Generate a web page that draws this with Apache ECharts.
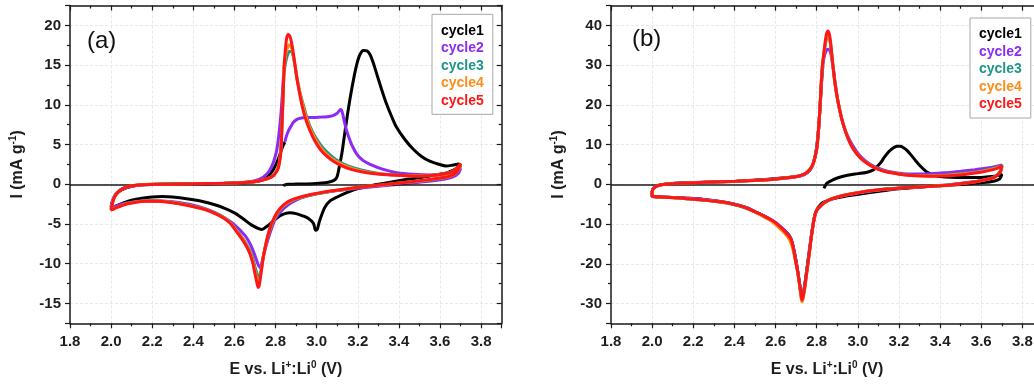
<!DOCTYPE html>
<html>
<head>
<meta charset="utf-8">
<script src="https://cdn.jsdelivr.net/npm/echarts@6/dist/echarts.min.js"></script>
<style>
  html, body { margin: 0; padding: 0; background: #fff; }
  #chart { width: 1034px; height: 385px; }
</style>
</head>
<body>
<div id="chart"></div>
<script>
// Cyclic voltammograms, [potential (V), current (mA/g)] in scan order.
const cycleNames = ['cycle1', 'cycle2', 'cycle3', 'cycle4', 'cycle5'];
const panelLabels = ['(a)', '(b)'];

// ---- panel (a) ----
const aCycle1 = [
  [2.84,0],[2.84,-0.15],[2.86,0.0],[2.90,0.02],[2.98,0.08],[3.04,0.2],[3.07,0.35],[3.09,0.6],[3.10,1.0],[3.11,2.2],
  [3.122,3.8],[3.138,6.7],[3.15,8.8],[3.163,10.9],[3.18,13.3],[3.195,15.1],[3.21,16.3],[3.227,16.85],[3.245,16.8],
  [3.26,16.3],[3.275,15.3],[3.292,13.9],[3.315,12.0],[3.34,10.1],[3.365,8.5],[3.39,7.1],[3.43,5.6],[3.47,4.4],
  [3.51,3.5],[3.55,2.9],[3.59,2.55],[3.63,2.3],[3.66,2.4],[3.69,2.55],[3.70,2.4],
  [3.68,2.0],[3.64,1.5],[3.55,1.05],[3.45,0.65],[3.39,0.4],[3.30,0.0],[3.26,-0.2],[3.20,-0.55],[3.146,-1.06],
  [3.10,-1.6],[3.065,-2.1],[3.04,-2.9],[3.025,-3.8],[3.012,-4.8],[3.003,-5.65],[2.995,-5.8],[2.984,-4.9],
  [2.96,-4.3],[2.935,-4.0],[2.90,-3.7],[2.87,-3.6],[2.845,-3.7],[2.82,-4.0],[2.795,-4.5],[2.773,-5.0],[2.75,-5.45],
  [2.733,-5.7],[2.715,-5.55],[2.695,-5.3],[2.676,-5.0],[2.64,-4.3],[2.60,-3.6],[2.55,-3.0],[2.50,-2.55],
  [2.45,-2.2],[2.40,-1.95],[2.35,-1.75],[2.30,-1.6],[2.25,-1.55],[2.20,-1.6],[2.15,-1.75],[2.10,-2.0],
  [2.06,-2.35],[2.03,-2.65],[2.01,-2.85],[2.0,-2.9],
  [2.005,-2.3],[2.02,-1.4],[2.05,-0.7],[2.10,-0.25],[2.15,-0.05],[2.25,0.0],[2.40,0.05],[2.55,0.1],[2.65,0.2],
  [2.72,0.4],[2.76,0.9],[2.79,1.9],[2.815,3.3],[2.835,4.8],[2.845,5.3]
];
const aCycle2 = [
  [2.845,5.3],[2.852,6.0],[2.862,6.7],[2.875,7.3],[2.887,7.8],[2.90,8.1],[2.919,8.3],[2.95,8.4],[2.984,8.4],
  [3.02,8.45],[3.05,8.5],[3.075,8.6],[3.098,8.9],[3.11,9.25],[3.117,9.4],[3.124,9.1],[3.132,8.2],[3.14,7.3],
  [3.146,6.7],[3.158,5.8],[3.17,5.0],[3.195,3.8],[3.225,3.0],[3.26,2.5],[3.32,1.9],[3.39,1.46],[3.47,1.25],
  [3.55,1.17],[3.61,1.25],[3.65,1.46],[3.68,1.75],[3.70,2.0],
  [3.69,1.4],[3.66,0.9],[3.60,0.55],[3.50,0.25],[3.40,0.0],[3.30,-0.25],[3.20,-0.5],[3.10,-0.8],[3.00,-1.2],
  [2.95,-1.5],[2.90,-2.0],[2.86,-2.6],[2.83,-3.3],[2.80,-4.3],[2.78,-5.6],[2.76,-7.2],[2.745,-8.6],[2.735,-9.7],
  [2.725,-10.5],[2.715,-10.1],[2.70,-9.0],[2.68,-7.7],[2.65,-6.4],[2.60,-5.1],[2.55,-4.2],[2.50,-3.5],
  [2.45,-3.0],[2.40,-2.65],[2.35,-2.4],[2.30,-2.2],[2.25,-2.1],[2.20,-2.05],[2.15,-2.1],[2.10,-2.25],
  [2.06,-2.45],[2.03,-2.7],[2.01,-2.85],[2.0,-2.9],
  [2.005,-2.2],[2.02,-1.3],[2.05,-0.65],[2.10,-0.25],[2.15,-0.08],[2.25,0.0],[2.40,0.05],[2.55,0.12],
  [2.65,0.25],[2.70,0.45],[2.74,0.9],[2.77,1.7],[2.79,2.8],[2.805,4.2],[2.815,6.0],[2.825,8.5],[2.832,11.0],
  [2.838,13.5]
];
const aCycle3 = [
  [2.838,13.5],[2.848,15.2],[2.858,16.3],[2.868,16.7],[2.877,16.7],[2.886,16.1],[2.895,14.9],[2.905,13.3],
  [2.918,11.6],[2.935,10.0],[2.955,8.2],[2.978,6.7],[3.0,5.7],[3.03,4.6],[3.065,3.7],[3.10,3.0],[3.14,2.45],
  [3.19,2.0],[3.25,1.6],[3.32,1.3],[3.40,1.15],[3.47,1.07],[3.53,1.08],[3.584,1.17],[3.63,1.35],[3.66,1.6],
  [3.685,2.0],[3.70,2.4],
  [3.695,2.0],[3.68,1.4],[3.65,1.0],[3.617,0.8],[3.55,0.55],[3.487,0.35],[3.41,0.15],[3.34,-0.05],[3.227,-0.35],
  [3.15,-0.6],[3.065,-0.9],[3.0,-1.2],[2.935,-1.6],[2.89,-1.95],[2.854,-2.45],[2.825,-3.1],[2.806,-3.8],
  [2.79,-4.6],[2.773,-5.7],[2.76,-6.8],[2.749,-8.0],[2.74,-9.2],[2.733,-10.3],[2.726,-11.3],[2.72,-11.8],
  [2.715,-11.6],[2.707,-11.0],[2.70,-10.4],[2.69,-9.4],[2.676,-8.4],[2.66,-7.6],[2.643,-6.9],[2.62,-6.1],
  [2.603,-5.55],[2.579,-4.8],[2.55,-4.2],[2.514,-3.7],[2.47,-3.25],[2.43,-2.95],[2.38,-2.65],[2.33,-2.4],
  [2.28,-2.2],[2.22,-2.1],[2.17,-2.1],[2.12,-2.2],[2.08,-2.4],[2.05,-2.65],[2.025,-2.9],[2.01,-3.05],[2.0,-3.15],
  [2.004,-2.6],[2.012,-1.8],[2.025,-1.2],[2.045,-0.7],[2.07,-0.38],[2.10,-0.18],[2.15,-0.06],[2.25,0.0],
  [2.40,0.05],[2.55,0.12],[2.65,0.22],[2.70,0.35],[2.741,0.55],[2.77,0.8],[2.79,1.15],[2.805,1.7],[2.814,2.3],
  [2.82,3.1],[2.826,4.5],[2.831,7.0],[2.835,10.0],[2.838,12.3],[2.842,14.5]
];
const aCycle4 = [
  [2.842,14.5],[2.85,16.4],[2.86,17.3],[2.868,17.55],[2.876,17.3],[2.885,16.4],[2.894,15.0],[2.903,13.5],
  [2.916,11.8],[2.93,10.2],[2.95,8.3],[2.972,6.8],[2.995,5.6],[3.022,4.5],[3.055,3.6],[3.09,2.95],[3.13,2.4],
  [3.175,1.95],[3.24,1.55],[3.31,1.28],[3.39,1.13],[3.47,1.06],[3.53,1.08],[3.584,1.17],[3.63,1.35],[3.66,1.6],
  [3.685,2.05],[3.70,2.5],
  [3.695,2.1],[3.68,1.45],[3.65,1.02],[3.617,0.82],[3.55,0.58],[3.487,0.38],[3.41,0.18],[3.34,-0.02],
  [3.227,-0.32],[3.15,-0.58],[3.065,-0.88],[3.0,-1.18],[2.935,-1.55],[2.89,-1.9],[2.854,-2.38],[2.825,-3.0],
  [2.806,-3.7],[2.79,-4.5],[2.773,-5.6],[2.76,-6.75],[2.749,-8.0],[2.74,-9.2],[2.733,-10.4],[2.726,-11.6],
  [2.72,-12.3],[2.716,-12.4],[2.71,-12.0],[2.705,-11.5],[2.70,-10.9],[2.69,-9.7],[2.676,-8.6],[2.66,-7.75],
  [2.643,-7.0],[2.62,-6.2],[2.603,-5.6],[2.579,-4.85],[2.55,-4.25],[2.514,-3.75],[2.47,-3.28],[2.43,-2.98],
  [2.38,-2.68],[2.33,-2.43],[2.28,-2.23],[2.22,-2.12],[2.17,-2.12],[2.12,-2.22],[2.08,-2.42],[2.05,-2.68],
  [2.025,-2.93],[2.01,-3.1],[2.0,-3.2],
  [2.004,-2.65],[2.012,-1.85],[2.025,-1.22],[2.045,-0.72],[2.07,-0.39],[2.10,-0.19],[2.15,-0.06],[2.25,0.0],
  [2.40,0.05],[2.55,0.12],[2.65,0.22],[2.70,0.35],[2.741,0.55],[2.77,0.8],[2.79,1.12],[2.805,1.65],[2.814,2.2],
  [2.82,3.0],[2.825,4.1],[2.83,6.8],[2.835,10.0],[2.838,12.2],[2.84,14.5]
];
const aCycle5 = [
  [2.84,14.5],[2.846,16.4],[2.854,18.4],[2.862,18.85],[2.87,18.6],[2.878,17.8],[2.887,16.4],[2.895,14.9],
  [2.903,13.4],[2.915,11.7],[2.927,10.1],[2.945,8.3],[2.968,6.7],[2.99,5.5],[3.017,4.4],[3.05,3.5],[3.081,2.9],
  [3.12,2.35],[3.163,1.9],[3.23,1.5],[3.309,1.26],[3.39,1.12],[3.47,1.05],[3.53,1.08],[3.584,1.17],[3.63,1.35],
  [3.66,1.6],[3.685,2.1],[3.70,2.6],
  [3.695,2.2],[3.68,1.5],[3.65,1.05],[3.617,0.85],[3.55,0.6],[3.487,0.4],[3.41,0.2],[3.34,0.0],[3.227,-0.3],
  [3.15,-0.55],[3.065,-0.85],[3.0,-1.15],[2.935,-1.5],[2.89,-1.85],[2.854,-2.3],[2.825,-2.95],[2.806,-3.6],
  [2.79,-4.4],[2.773,-5.5],[2.76,-6.7],[2.749,-8.0],[2.74,-9.2],[2.733,-10.5],[2.726,-11.8],[2.72,-12.8],
  [2.716,-13.0],[2.71,-12.5],[2.705,-11.9],[2.70,-11.3],[2.69,-10.0],[2.676,-8.8],[2.66,-7.9],[2.643,-7.15],
  [2.62,-6.3],[2.603,-5.7],[2.579,-4.9],[2.55,-4.3],[2.514,-3.8],[2.47,-3.3],[2.43,-3.0],[2.38,-2.7],[2.33,-2.45],
  [2.28,-2.25],[2.22,-2.15],[2.17,-2.15],[2.12,-2.25],[2.08,-2.45],[2.05,-2.7],[2.025,-2.95],[2.01,-3.15],[2.0,-3.25],
  [2.004,-2.7],[2.012,-1.9],[2.025,-1.25],[2.045,-0.75],[2.07,-0.4],[2.10,-0.2],[2.15,-0.07],[2.25,0.0],
  [2.40,0.05],[2.55,0.12],[2.65,0.22],[2.70,0.35],[2.741,0.55],[2.77,0.8],[2.79,1.1],[2.805,1.6],[2.814,2.1],
  [2.82,2.9],[2.825,3.8],[2.83,6.7],[2.835,10.1],[2.838,12.2],[2.843,15.5]
];

// ---- panel (b) ----
const bCycle1 = [
  [2.835,-1.0],[2.84,-0.5],[2.85,0.3],[2.87,0.9],[2.90,1.6],[2.95,2.3],[3.0,2.7],[3.04,3.0],[3.07,3.5],[3.09,4.3],
  [3.11,5.4],[3.13,6.9],[3.15,8.2],[3.17,9.1],[3.19,9.6],[3.205,9.6],[3.22,9.3],[3.24,8.5],[3.26,7.3],[3.28,6.0],
  [3.30,4.8],[3.32,3.8],[3.34,3.0],[3.37,2.3],[3.40,2.0],[3.45,1.8],[3.52,1.7],[3.60,1.75],[3.65,1.95],[3.68,2.2],
  [3.70,2.5],
  [3.69,1.4],[3.66,0.8],[3.60,0.4],[3.52,0.05],[3.40,-0.35],[3.28,-0.8],[3.15,-1.4],[3.05,-2.1],[2.95,-2.9],
  [2.90,-3.4],[2.86,-3.9],[2.83,-4.6],[2.81,-5.6],[2.80,-6.5],[2.79,-8.0],[2.777,-12.0],[2.765,-16.5],
  [2.752,-21.5],[2.74,-26.0],[2.73,-28.6],[2.724,-27.5],[2.715,-24.5],[2.705,-21.0],[2.695,-18.0],[2.68,-14.5],
  [2.668,-13.0],[2.65,-12.0],[2.63,-11.0],[2.60,-9.7],[2.56,-8.4],[2.50,-6.9],[2.46,-5.9],[2.40,-5.0],
  [2.33,-4.3],[2.25,-3.8],[2.17,-3.5],[2.10,-3.3],[2.05,-3.2],[2.01,-3.1],[2.0,-3.0],
  [2.0,-1.8],[2.01,-0.9],[2.03,-0.3],[2.07,0.1],[2.17,0.4],[2.30,0.6],[2.41,0.8],[2.55,1.2],[2.655,1.7],
  [2.72,2.2],[2.755,3.0],[2.777,4.5],[2.79,6.5],[2.80,9.5],[2.81,14.5],[2.818,21.0],[2.825,27.0],[2.83,30.0]
];
const bCycle2 = [
  [2.83,30.0],[2.838,32.5],[2.848,33.8],[2.858,34.0],[2.868,33.0],[2.878,30.0],[2.89,25.5],[2.903,21.0],
  [2.92,16.8],[2.936,14.0],[2.952,12.0],[2.97,10.2],[2.995,8.2],[3.02,6.7],[3.05,5.4],[3.08,4.5],[3.12,3.7],
  [3.163,3.1],[3.22,2.7],[3.28,2.6],[3.35,2.7],[3.42,2.9],[3.50,3.3],[3.57,3.7],[3.63,4.1],[3.67,4.5],[3.70,4.9],
  [3.695,3.5],[3.68,2.4],[3.65,1.6],[3.60,1.0],[3.52,0.4],[3.44,-0.1],[3.35,-0.45],[3.276,-0.75],[3.20,-1.0],
  [3.114,-1.35],[3.05,-1.8],[2.99,-2.3],[2.95,-2.65],[2.90,-3.2],[2.87,-3.7],[2.84,-4.5],[2.82,-5.4],[2.80,-6.6],
  [2.79,-8.0],[2.777,-11.8],[2.765,-16.3],[2.752,-21.5],[2.74,-25.8],[2.732,-28.0],[2.727,-28.6],[2.72,-26.5],
  [2.712,-23.5],[2.703,-20.5],[2.695,-18.0],[2.683,-15.2],[2.67,-13.3],[2.655,-12.2],[2.638,-11.3],[2.60,-9.6],
  [2.558,-8.3],[2.50,-6.9],[2.46,-5.9],[2.40,-5.0],[2.33,-4.3],[2.25,-3.8],[2.17,-3.5],[2.10,-3.3],[2.05,-3.2],
  [2.01,-3.05],[2.0,-2.95],
  [2.0,-1.8],[2.008,-0.9],[2.025,-0.35],[2.06,0.05],[2.12,0.3],[2.20,0.45],[2.30,0.6],[2.41,0.8],[2.53,1.1],
  [2.655,1.6],[2.72,2.1],[2.755,2.9],[2.777,4.4],[2.79,6.5],[2.80,9.3],[2.81,14.5],[2.818,21.0],[2.825,27.0],
  [2.83,31.0]
];
const bCycle3 = [
  [2.83,31.0],[2.838,33.8],[2.846,36.3],[2.856,37.1],[2.865,36.0],[2.873,32.8],[2.88,29.5],[2.89,25.0],
  [2.903,21.0],[2.92,16.9],[2.936,14.0],[2.952,11.7],[2.968,9.9],[2.99,8.1],[3.017,6.5],[3.05,5.2],[3.08,4.3],
  [3.12,3.5],[3.163,3.0],[3.22,2.5],[3.276,2.25],[3.34,2.2],[3.406,2.3],[3.46,2.5],[3.52,2.8],[3.58,3.2],
  [3.63,3.7],[3.67,4.2],[3.70,4.7],
  [3.695,3.5],[3.68,2.5],[3.66,1.75],[3.63,1.3],[3.57,0.65],[3.50,0.2],[3.44,-0.15],[3.36,-0.42],[3.276,-0.68],
  [3.20,-0.93],[3.114,-1.28],[3.05,-1.68],[2.99,-2.18],[2.952,-2.53],[2.91,-3.03],[2.87,-3.68],[2.84,-4.48],
  [2.82,-5.38],[2.801,-6.4],[2.79,-8.0],[2.777,-12.0],[2.766,-16.4],[2.752,-21.8],[2.741,-26.0],[2.733,-28.3],
  [2.728,-28.9],[2.722,-27.0],[2.715,-24.5],[2.708,-22.0],[2.70,-20.1],[2.695,-18.7],[2.687,-16.4],[2.68,-14.7],
  [2.672,-13.6],[2.662,-12.9],[2.65,-12.3],[2.638,-11.6],[2.62,-10.7],[2.60,-9.8],[2.58,-9.1],[2.558,-8.5],
  [2.53,-7.7],[2.50,-7.0],[2.46,-6.1],[2.42,-5.4],[2.38,-4.9],[2.33,-4.45],[2.28,-4.15],[2.22,-3.85],
  [2.168,-3.62],[2.12,-3.42],[2.06,-3.27],[2.03,-3.17],[2.01,-3.07],[2.0,-3.02],
  [2.0,-1.8],[2.008,-0.9],[2.025,-0.4],[2.05,-0.05],[2.09,0.15],[2.168,0.35],[2.25,0.5],[2.33,0.65],[2.412,0.8],
  [2.50,1.0],[2.58,1.25],[2.655,1.65],[2.71,2.05],[2.736,2.5],[2.757,3.2],[2.777,4.6],[2.79,6.5],[2.801,9.2],
  [2.81,14.7],[2.817,20.5],[2.822,25.6],[2.827,29.5],[2.83,31.0]
];
const bCycle4 = [
  [2.83,31.0],[2.838,34.2],[2.846,36.8],[2.855,37.6],[2.864,36.4],[2.872,33.0],[2.879,29.6],[2.89,24.9],
  [2.903,20.9],[2.92,16.8],[2.936,13.9],[2.952,11.6],[2.968,9.8],[2.99,8.0],[3.017,6.4],[3.05,5.1],[3.08,4.2],
  [3.12,3.45],[3.163,2.95],[3.22,2.45],[3.276,2.2],[3.34,2.1],[3.406,2.2],[3.46,2.4],[3.52,2.65],[3.58,3.05],
  [3.63,3.55],[3.67,4.05],[3.70,4.6],
  [3.695,3.4],[3.68,2.45],[3.66,1.7],[3.63,1.27],[3.57,0.62],[3.50,0.17],[3.44,-0.18],[3.36,-0.44],[3.276,-0.7],
  [3.20,-0.95],[3.114,-1.3],[3.05,-1.7],[2.99,-2.2],[2.952,-2.55],[2.91,-3.05],[2.87,-3.7],[2.84,-4.5],
  [2.82,-5.4],[2.801,-6.4],[2.79,-8.0],[2.777,-12.1],[2.766,-16.7],[2.752,-22.3],[2.741,-26.6],[2.733,-29.0],
  [2.728,-29.6],[2.722,-27.8],[2.715,-25.0],[2.708,-22.3],[2.70,-20.0],[2.69,-17.6],[2.68,-15.6],[2.67,-14.2],
  [2.655,-13.0],[2.64,-12.1],[2.62,-11.1],[2.60,-10.1],[2.58,-9.3],[2.558,-8.6],[2.53,-7.8],[2.50,-7.0],
  [2.46,-6.0],[2.42,-5.3],[2.38,-4.85],[2.33,-4.45],[2.28,-4.12],[2.22,-3.82],[2.168,-3.6],[2.12,-3.41],
  [2.06,-3.26],[2.03,-3.16],[2.01,-3.06],[2.0,-3.01],
  [2.0,-1.8],[2.008,-0.9],[2.025,-0.4],[2.05,-0.05],[2.09,0.15],[2.168,0.35],[2.25,0.5],[2.33,0.65],[2.412,0.8],
  [2.50,1.0],[2.58,1.25],[2.655,1.65],[2.71,2.05],[2.736,2.5],[2.757,3.2],[2.777,4.6],[2.79,6.5],[2.801,9.2],
  [2.81,14.7],[2.817,20.5],[2.822,25.6],[2.827,29.5],[2.83,31.0]
];
const bCycle5 = [
  [2.83,31.0],[2.838,34.5],[2.846,37.5],[2.855,38.6],[2.864,37.2],[2.872,33.5],[2.879,29.8],[2.89,25.0],
  [2.903,21.0],[2.92,16.8],[2.936,13.9],[2.952,11.6],[2.968,9.8],[2.99,8.0],[3.017,6.4],[3.05,5.1],[3.08,4.2],
  [3.12,3.4],[3.163,2.9],[3.22,2.4],[3.276,2.15],[3.34,2.05],[3.406,2.1],[3.46,2.25],[3.52,2.5],[3.58,2.9],
  [3.63,3.4],[3.67,3.9],[3.70,4.6],
  [3.695,3.4],[3.68,2.4],[3.66,1.7],[3.63,1.25],[3.57,0.6],[3.50,0.15],[3.44,-0.2],[3.36,-0.45],[3.276,-0.7],
  [3.20,-0.95],[3.114,-1.3],[3.05,-1.7],[2.99,-2.2],[2.952,-2.55],[2.91,-3.05],[2.87,-3.7],[2.84,-4.5],
  [2.82,-5.4],[2.801,-6.4],[2.79,-8.0],[2.777,-12.0],[2.766,-16.5],[2.752,-22.0],[2.741,-26.2],[2.733,-28.5],
  [2.728,-29.1],[2.722,-27.0],[2.715,-24.5],[2.708,-22.0],[2.70,-20.0],[2.695,-18.6],[2.687,-16.3],[2.68,-14.6],
  [2.672,-13.5],[2.662,-12.8],[2.65,-12.2],[2.638,-11.5],[2.62,-10.6],[2.60,-9.7],[2.58,-9.0],[2.558,-8.4],
  [2.53,-7.6],[2.50,-6.9],[2.46,-6.0],[2.42,-5.3],[2.38,-4.8],[2.33,-4.4],[2.28,-4.1],[2.22,-3.8],[2.168,-3.6],
  [2.12,-3.4],[2.06,-3.25],[2.03,-3.15],[2.01,-3.05],[2.0,-3.0],
  [2.0,-1.8],[2.008,-0.9],[2.025,-0.4],[2.05,-0.05],[2.09,0.15],[2.168,0.35],[2.25,0.5],[2.33,0.65],[2.412,0.8],
  [2.50,1.0],[2.58,1.25],[2.655,1.65],[2.71,2.05],[2.736,2.5],[2.757,3.2],[2.777,4.6],[2.79,6.5],[2.801,9.2],
  [2.81,14.7],[2.817,20.5],[2.822,25.6],[2.827,29.5],[2.83,31.0]
];

const panelA = [aCycle1, aCycle2, aCycle3, aCycle4, aCycle5];
const panelB = [bCycle1, bCycle2, bCycle3, bCycle4, bCycle5];

// axis ranges
const xRange = [1.8, 3.9];
const yRangeA = [-17.5, 22.5];
const yRangeB = [-35, 45];

// styling
const cycleColors = ['#000000', '#8C2BF5', '#1F958A', '#FF8C1A', '#FF1616'];
const FONT = '"Liberation Sans", Arial, sans-serif';
const AXIS_COLOR = '#1a1a1a';
const TEXT_COLOR = '#1e1e1e';

const chart = echarts.init(document.getElementById('chart'), null, { renderer: 'canvas' });

const grids = [
  { left: 70, top: 5.5, width: 431.7, height: 317.8, outerBoundsMode: 'none' },
  { left: 611, top: 5.7, width: 432, height: 317.6, outerBoundsMode: 'none' }
];

const richName = {
  sup: { fontSize: 10, fontWeight: 'bold', fontFamily: FONT, color: TEXT_COLOR, padding: [0, 0, 9, 0] }
};

function xAxes(gridIndex) {
  const common = {
    type: 'value', gridIndex, min: xRange[0], max: xRange[1], interval: 0.2,
    axisLine: { onZero: false, lineStyle: { color: AXIS_COLOR, width: 1.5 } },
    minorTick: { show: true, splitNumber: 2, length: 3, lineStyle: { color: AXIS_COLOR, width: 1.2 } },
    minorSplitLine: { show: false }
  };
  return [
    Object.assign({}, common, {
      position: 'bottom',
      axisTick: { inside: false, length: 5, lineStyle: { color: AXIS_COLOR, width: 1.2 } },
      axisLabel: {
        show: true, margin: 11, fontSize: 15, fontWeight: 'bold', color: TEXT_COLOR, fontFamily: FONT,
        showMaxLabel: false, formatter: v => v.toFixed(1)
      },
      splitLine: { show: true, lineStyle: { color: '#e8e8e8', type: [3, 2], width: 1 } },
      name: 'E vs. Li{sup|+}:Li{sup|0} (V)',
      nameLocation: 'middle', nameGap: 37,
      nameTextStyle: { fontSize: 16, fontWeight: 'bold', color: TEXT_COLOR, fontFamily: FONT, rich: richName }
    }),
    Object.assign({}, common, {
      position: 'top',
      axisTick: { inside: true, length: 5, lineStyle: { color: AXIS_COLOR, width: 1.2 } },
      axisLabel: { show: false },
      splitLine: { show: false }
    })
  ];
}

function yAxes(gridIndex, range) {
  const common = {
    type: 'value', gridIndex, min: range[0], max: range[1], splitNumber: 8,
    axisLine: { onZero: false, lineStyle: { color: AXIS_COLOR, width: 1.5 } },
    minorTick: { show: true, splitNumber: 2, length: 3, lineStyle: { color: AXIS_COLOR, width: 1.2 } },
    minorSplitLine: { show: false }
  };
  return [
    Object.assign({}, common, {
      position: 'left',
      axisTick: { inside: false, length: 5, lineStyle: { color: AXIS_COLOR, width: 1.2 } },
      axisLabel: {
        show: true, margin: 9, fontSize: 15, fontWeight: 'bold', color: TEXT_COLOR, fontFamily: FONT,
        showMinLabel: false, showMaxLabel: false
      },
      splitLine: { show: true, lineStyle: { color: '#e8e8e8', type: [3, 2], width: 1 } },
      name: 'I (mA g{sup|-1})',
      nameLocation: 'middle', nameGap: 43,
      nameTextStyle: { fontSize: 16, fontWeight: 'bold', color: TEXT_COLOR, fontFamily: FONT, rich: richName }
    }),
    Object.assign({}, common, {
      position: 'right',
      axisTick: { inside: true, length: 5, lineStyle: { color: AXIS_COLOR, width: 1.2 } },
      axisLabel: { show: false },
      splitLine: { show: false }
    })
  ];
}

function panelSeries(curves, axisBase) {
  return curves.map((pts, i) => {
    const s = {
      name: cycleNames[i],
      type: 'line',
      xAxisIndex: axisBase,
      yAxisIndex: axisBase,
      data: pts,
      showSymbol: false,
      smooth: 0.3,
      lineStyle: { color: cycleColors[i], width: 3 },
      itemStyle: { color: cycleColors[i] },
      z: 2 + i,
      animation: false
    };
    if (i === 0) {
      s.markLine = {
        silent: true, symbol: 'none', animation: false,
        label: { show: false },
        lineStyle: { color: AXIS_COLOR, width: 1.5, type: 'solid' },
        data: [{ yAxis: 0 }]
      };
    }
    return s;
  });
}

function legendAt(left, top) {
  return {
    orient: 'vertical', left, top,
    selectedMode: false,
    icon: 'rect', itemWidth: 0, itemHeight: 14, itemGap: 3.5,
    padding: [9.4, 9, 6.6, 4],
    backgroundColor: '#ffffff',
    borderColor: '#a8a8a8', borderWidth: 1,
    textStyle: { fontSize: 14, fontWeight: 'bold', fontFamily: FONT },
    data: cycleNames.map((n, i) => ({ name: n, textStyle: { color: cycleColors[i] } }))
  };
}

const option = {
  backgroundColor: '#ffffff',
  animation: false,
  title: [
    { text: panelLabels[0], left: 87, top: 29, padding: 0,
      textStyle: { fontSize: 24, fontWeight: 'normal', color: '#111', fontFamily: FONT } },
    { text: panelLabels[1], left: 632, top: 27, padding: 0,
      textStyle: { fontSize: 24, fontWeight: 'normal', color: '#111', fontFamily: FONT } }
  ],
  legend: [legendAt(432, 14.3), legendAt(970, 18)],
  grid: grids,
  xAxis: [...xAxes(0), ...xAxes(1)],
  yAxis: [...yAxes(0, yRangeA), ...yAxes(1, yRangeB)],
  series: [...panelSeries(panelA, 0), ...panelSeries(panelB, 2)]
};

chart.setOption(option);
</script>
</body>
</html>
